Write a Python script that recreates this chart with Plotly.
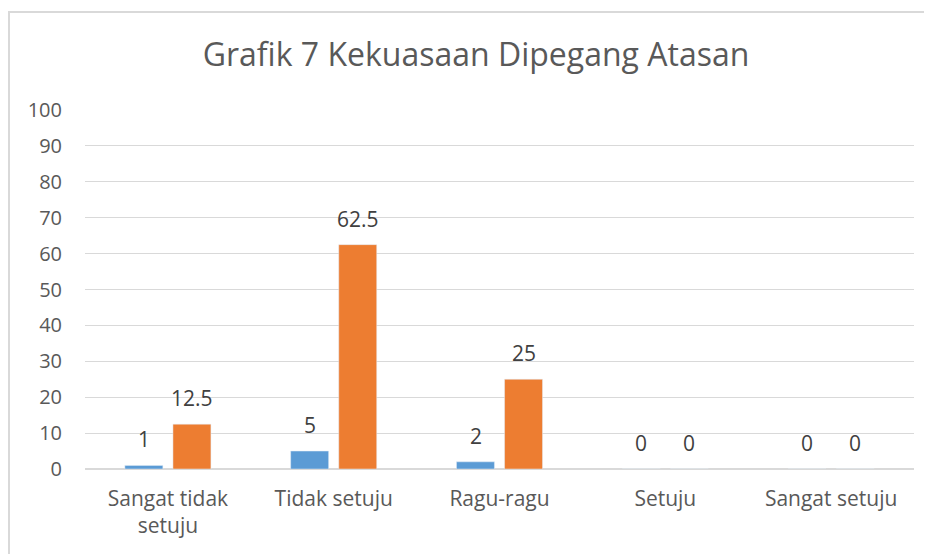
import plotly.graph_objects as go

categories = ["Sangat tidak<br>setuju", "Tidak setuju", "Ragu-ragu", "Setuju", "Sangat setuju"]
series_a = [1, 5, 2, 0, 0]
series_b = [12.5, 62.5, 25, 0, 0]
y_ticks = [0, 10, 20, 30, 40, 50, 60, 70, 80, 90, 100]

# page body has an 8px margin; the figure is sized to fill the rest of the window
OFF = 8
W, H = 932 - OFF, 554 - OFF
L, R, T, B = 85 - OFF, 18, 110 - OFF, 85
pw = W - L - R
ph = H - T - B

font_family = "Open Sans, Noto Sans, sans-serif"
txt_color = "#595959"
lbl_color = "#404040"

fig = go.Figure()
fig.add_trace(go.Bar(x=categories, y=series_a, marker_color="#5B9BD5"))
fig.add_trace(go.Bar(x=categories, y=series_b, marker_color="#ED7D31"))

annotations = []
for cat, a, b in zip(categories, series_a, series_b):
    for val, xs in ((a, -24), (b, 24)):
        annotations.append(dict(x=cat, y=val, xref="x", yref="y", text=str(val),
                                showarrow=False, xanchor="center", yanchor="bottom",
                                xshift=xs, yshift=10,
                                font=dict(size=21, color=lbl_color, family=font_family)))

def px_x(x):
    return (x - OFF - L) / pw

def px_y(y):
    return (H - B - (y - OFF)) / ph

fig.add_shape(type="rect", xref="paper", yref="paper",
              x0=px_x(9), x1=px_x(945), y0=px_y(570), y1=px_y(12),
              line=dict(color="#D9D9D9", width=2), fillcolor="rgba(0,0,0,0)", layer="below")

fig.update_layout(
    width=W, height=H,
    margin=dict(l=L, r=R, t=T, b=B),
    paper_bgcolor="white", plot_bgcolor="white",
    showlegend=False,
    barmode="group", bargap=0.42, bargroupgap=0.21,
    title=dict(text="Grafik 7 Kekuasaan Dipegang Atasan", x=(476 - OFF) / W, xanchor="center",
               y=1 - (55 - OFF) / H, yanchor="middle",
               font=dict(size=32, color=txt_color, family=font_family)),
    font=dict(family=font_family, color=txt_color),
    annotations=annotations,
)
fig.update_yaxes(range=[0, 100], tickvals=y_ticks, ticktext=[str(v) for v in y_ticks],
                 showgrid=True, gridcolor="#D9D9D9", gridwidth=1.3,
                 zeroline=True, zerolinecolor="#D9D9D9", zerolinewidth=1.5,
                 showline=False, ticks="", ticklabelstandoff=22,
                 tickfont=dict(size=20, color=txt_color, family=font_family))
fig.update_xaxes(showline=False, ticks="", showgrid=False,
                 tickfont=dict(size=21, color=txt_color, family=font_family),
                 ticklabelstandoff=15)

fig.write_html("out.html")
